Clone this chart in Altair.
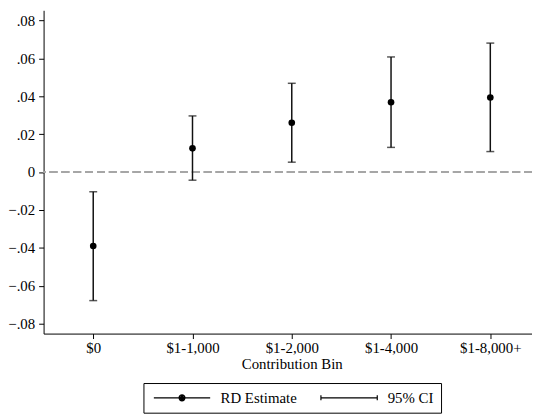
import altair as alt
import pandas as pd

bins = ["$0", "$1-1,000", "$1-2,000", "$1-4,000", "$1-8,000+"]
estimate = [-0.0390, 0.0125, 0.0260, 0.0368, 0.0393]
ci_low = [-0.0678, -0.0043, 0.0052, 0.0130, 0.0108]
ci_high = [-0.0104, 0.0296, 0.0468, 0.0607, 0.0680]
y_ticks = [-0.08, -0.06, -0.04, -0.02, 0, 0.02, 0.04, 0.06, 0.08]
series_names = ["RD Estimate", "95% CI"]

df = pd.DataFrame({
    "pos": list(range(len(bins))),
    "bin": bins,
    "est": estimate,
    "lo": ci_low,
    "hi": ci_high,
})
legend_df = pd.DataFrame({"series": series_names})

FONT = "Liberation Serif"
label_expr = "[" + ",".join("'" + b + "'" for b in bins) + "][datum.value]"

xscale = alt.Scale(domain=[-0.5, 4.42], nice=False, zero=False)
yscale = alt.Scale(domain=[-0.0852, 0.0853], nice=False, zero=False)

x_axis = alt.Axis(
    values=list(range(len(bins))), labelExpr=label_expr,
    labelFont=FONT, labelFontSize=15, labelColor="black",
    title="Contribution Bin", titleFont=FONT, titleFontSize=15,
    titleFontWeight="normal", titleColor="black", titlePadding=1,
    titleX=251, titleAlign="center", titleAnchor="start",
    tickSize=5, labelPadding=2, labelFlush=False,
)
y_axis = alt.Axis(
    values=y_ticks,
    labelExpr="datum.value == 0 ? '0' : replace(format(datum.value, '.2f'), '0.', '.')",
    labelFont=FONT, labelFontSize=15, labelColor="black",
    title=None, tickSize=5, labelPadding=4,
)

base = alt.Chart(df)

zero_line = alt.Chart(df).mark_rule(
    color="#a6a6a6", strokeWidth=1.6, strokeDash=[8, 4]
).encode(y=alt.datum(0, scale=yscale, axis=y_axis))

bars = base.mark_rule(color="#111111", strokeWidth=1.5).encode(
    x=alt.X("pos:Q", scale=xscale, axis=x_axis),
    y=alt.Y("lo:Q", scale=yscale, axis=y_axis),
    y2="hi:Q",
)
caps_hi = base.mark_tick(orient="horizontal", size=8, thickness=1.5, color="#111111").encode(
    x=alt.X("pos:Q", scale=xscale, axis=x_axis), y=alt.Y("hi:Q", scale=yscale, axis=y_axis)
)
caps_lo = base.mark_tick(orient="horizontal", size=8, thickness=1.5, color="#111111").encode(
    x=alt.X("pos:Q", scale=xscale, axis=x_axis), y=alt.Y("lo:Q", scale=yscale, axis=y_axis)
)
points = base.mark_circle(size=45, color="black", opacity=1).encode(
    x=alt.X("pos:Q", scale=xscale, axis=x_axis), y=alt.Y("est:Q", scale=yscale, axis=y_axis)
)

# line with dot (concentric rings so the dot reads as solid even with stroke only)
dot_path = ("M-4.07,0H4.07"
            "M-0.43,0A0.43,0.43,0,1,1,0.43,0A0.43,0.43,0,1,1,-0.43,0Z"
            "M-0.25,0A0.25,0.25,0,1,1,0.25,0A0.25,0.25,0,1,1,-0.25,0Z"
            "M-0.1,0A0.1,0.1,0,1,1,0.1,0A0.1,0.1,0,1,1,-0.1,0Z")
ci_path = "M-4.07,0H4.07M-4.07,-0.36V0.36M4.07,-0.36V0.36"

legend_layer = alt.Chart(legend_df).mark_point(
    filled=False, color="black", strokeWidth=1.2, opacity=1
).encode(
    x=alt.X("pos:Q", scale=xscale, axis=x_axis),
    y=alt.Y("val:Q", scale=yscale, axis=y_axis),
    shape=alt.Shape(
        "series:N",
        scale=alt.Scale(domain=series_names, range=[dot_path, ci_path]),
        legend=alt.Legend(
            title=None, orient="none", legendX=101, legendY=377,
            direction="horizontal", columns=2,
            strokeColor="black", fillColor="white", padding=7,
            symbolSize=196, symbolOffset=24, labelOffset=31,
            columnPadding=20,
            labelExpr="datum.label == '95% CI' ? datum.label + '\u2002' : datum.label",
            symbolFillColor="black", symbolStrokeColor="black",
            symbolStrokeWidth=1.2, symbolOpacity=1,
            labelFont=FONT, labelFontSize=15, labelColor="black",
        ),
    ),
).transform_calculate(pos="0", val="0").transform_filter("datum.series == 'none'")

chart = alt.layer(zero_line, bars, caps_hi, caps_lo, points, legend_layer).properties(
    width=494, height=327,
    autosize=alt.AutoSizeParams(type="none"),
    padding={"left": 36, "top": 0, "right": 0, "bottom": 79},
).configure(font=FONT).configure_view(stroke=None).configure_axis(
    labelFont=FONT, labelFontSize=15, labelColor="black",
    domainColor="black", tickColor="black", grid=False,
    domainWidth=1, tickWidth=1,
)

chart.save("out.html", embed_options={"renderer": "svg", "actions": False})
